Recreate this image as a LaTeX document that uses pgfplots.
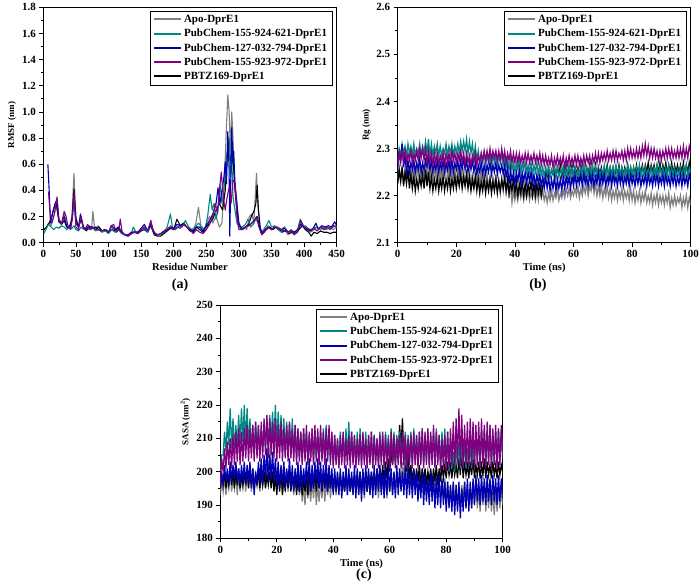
\documentclass[border=0pt]{standalone}
\usepackage{fontspec}
\setmainfont{Liberation Serif}
\usepackage{pgfplots}
\pgfplotsset{compat=1.18}
\definecolor{cgray}{RGB}{128,128,128}
\definecolor{cteal}{RGB}{0,136,130}
\definecolor{cblue}{RGB}{0,0,178}
\definecolor{cpurp}{RGB}{128,0,128}
\pgfplotsset{
  myax/.style={
    scale only axis, anchor=north west,
    axis line style={line width=0.8pt},
    tick align=outside, tick pos=left,
    major tick length=4pt, minor tick length=2.5pt,
    every tick/.style={black, line width=0.7pt},
    minor tick num=1,
    /pgf/number format/assume math mode=true,
    tick label style={font=\bfseries\fontsize{11}{12}\selectfont},
    xlabel style={font=\bfseries\fontsize{10.5}{12}\selectfont, yshift=1pt},
    ylabel style={font=\bfseries\fontsize{9}{10}\selectfont, yshift=-1pt},
    legend style={draw=black, line width=0.5pt, fill=white, at={(0.985,0.985)}, anchor=north east,
      font=\bfseries\fontsize{11}{13}\selectfont, inner xsep=3pt, inner ysep=2pt, row sep=1.2pt},
    legend cell align=left,
    legend image code/.code={\draw[#1, line width=2pt] (0pt,0pt) -- (27pt,0pt);},
    every axis plot/.append style={line width=1.1pt, line join=round},
  },
  band/.style={every axis plot/.append style={line width=1.25pt, line join=miter}},
}
\begin{document}
\begin{tikzpicture}
\path[use as bounding box] (0pt,0pt) rectangle (700pt,-587pt);
% ---------------- (a) RMSF
\begin{axis}[myax, at={(43.3pt,-7.3pt)}, width=293.4pt, height=235.4pt,
  xmin=0, xmax=450, ymin=0, ymax=1.8,
  xtick={0,50,...,450}, ytick={0,0.2,...,1.8},
  yticklabel style={/pgf/number format/.cd, fixed, fixed zerofill, precision=1},
  xlabel={Residue Number}, ylabel={RMSF (nm)}]
\addlegendimage{cgray}\addlegendentry{Apo-DprE1}
\addlegendimage{cteal}\addlegendentry{PubChem-155-924-621-DprE1}
\addlegendimage{cblue}\addlegendentry{PubChem-127-032-794-DprE1}
\addlegendimage{cpurp}\addlegendentry{PubChem-155-923-972-DprE1}
\addlegendimage{black}\addlegendentry{PBTZ169-DprE1}
\addplot[cgray, forget plot] coordinates {(1,0.10)(5,0.12)(8,0.15)(12,0.13)(16,0.2)(20,0.28)(24,0.18)(28,0.15)(32,0.22)(36,0.14)(40,0.12)(44,0.2)(47,0.53)(50,0.2)(54,0.12)(58,0.2)(62,0.12)(66,0.1)(70,0.12)(74,0.1)(76,0.24)(79,0.1)(84,0.13)(88,0.1)(92,0.09)(96,0.1)(100,0.08)(104,0.12)(108,0.1)(112,0.09)(116,0.12)(120,0.09)(125,0.06)(130,0.05)(135,0.07)(140,0.09)(145,0.08)(150,0.1)(155,0.12)(160,0.09)(165,0.15)(170,0.08)(175,0.06)(180,0.06)(185,0.08)(190,0.1)(195,0.13)(200,0.1)(205,0.12)(210,0.13)(215,0.15)(220,0.12)(225,0.1)(230,0.09)(234,0.15)(238,0.27)(242,0.12)(246,0.08)(250,0.15)(255,0.2)(260,0.15)(265,0.2)(270,0.12)(274,0.15)(278,0.5)(281,0.9)(283,1.13)(285,1.0)(287,0.7)(289,1.0)(291,0.8)(293,0.5)(296,0.35)(299,0.15)(303,0.1)(308,0.12)(312,0.1)(316,0.2)(320,0.22)(323,0.15)(325,0.35)(327,0.53)(329,0.3)(332,0.12)(336,0.07)(340,0.1)(345,0.13)(350,0.1)(355,0.12)(360,0.12)(365,0.1)(370,0.12)(375,0.06)(380,0.08)(385,0.07)(390,0.08)(395,0.15)(400,0.12)(405,0.1)(410,0.08)(415,0.1)(420,0.12)(425,0.1)(430,0.12)(435,0.1)(440,0.12)(445,0.1)(450,0.12)};
\addplot[black, forget plot] coordinates {(1,0.1)(5,0.12)(9,0.15)(13,0.2)(16,0.26)(20,0.3)(24,0.16)(28,0.14)(32,0.17)(36,0.12)(40,0.11)(44,0.18)(47,0.41)(50,0.18)(54,0.12)(58,0.18)(62,0.11)(66,0.09)(70,0.12)(75,0.12)(80,0.1)(85,0.12)(90,0.09)(95,0.1)(100,0.08)(105,0.1)(110,0.09)(115,0.11)(120,0.08)(125,0.06)(130,0.06)(135,0.07)(140,0.08)(145,0.07)(150,0.09)(155,0.1)(160,0.08)(165,0.13)(170,0.06)(175,0.05)(180,0.05)(185,0.07)(190,0.09)(195,0.11)(200,0.1)(205,0.18)(210,0.13)(215,0.15)(220,0.12)(225,0.09)(230,0.08)(235,0.12)(240,0.1)(245,0.08)(250,0.12)(255,0.15)(260,0.18)(265,0.25)(270,0.3)(275,0.25)(279,0.4)(282,0.65)(285,0.72)(288,0.6)(291,0.65)(294,0.4)(297,0.25)(300,0.13)(305,0.1)(310,0.12)(315,0.14)(319,0.2)(323,0.24)(326,0.3)(328,0.44)(330,0.25)(333,0.1)(337,0.07)(342,0.1)(347,0.12)(352,0.1)(357,0.12)(362,0.1)(367,0.08)(372,0.1)(377,0.07)(382,0.08)(387,0.07)(392,0.1)(397,0.13)(402,0.1)(407,0.08)(411,0.05)(415,0.08)(420,0.07)(425,0.09)(430,0.08)(435,0.08)(440,0.07)(445,0.08)(450,0.08)};
\addplot[cteal, forget plot] coordinates {(1,0.07)(4,0.1)(8,0.14)(12,0.12)(16,0.1)(20,0.12)(24,0.11)(28,0.13)(32,0.12)(36,0.1)(40,0.12)(44,0.11)(47,0.13)(50,0.1)(54,0.09)(58,0.12)(62,0.1)(66,0.12)(70,0.1)(75,0.12)(80,0.09)(85,0.1)(90,0.08)(95,0.09)(100,0.07)(105,0.1)(110,0.08)(115,0.1)(120,0.07)(125,0.06)(130,0.05)(135,0.07)(138,0.12)(142,0.08)(146,0.08)(150,0.1)(155,0.11)(160,0.08)(165,0.14)(170,0.07)(175,0.06)(180,0.06)(185,0.08)(190,0.12)(195,0.22)(198,0.12)(203,0.1)(208,0.13)(213,0.12)(218,0.17)(223,0.12)(228,0.1)(233,0.12)(238,0.15)(243,0.12)(248,0.1)(252,0.2)(256,0.37)(259,0.25)(262,0.3)(265,0.18)(268,0.25)(271,0.45)(274,0.3)(277,0.4)(280,0.6)(283,0.75)(285,0.8)(287,0.5)(289,0.65)(291,0.35)(294,0.25)(297,0.15)(300,0.12)(305,0.12)(310,0.14)(314,0.18)(318,0.12)(322,0.14)(326,0.18)(330,0.15)(334,0.08)(338,0.1)(343,0.14)(346,0.17)(350,0.12)(355,0.13)(360,0.1)(365,0.08)(370,0.12)(375,0.08)(380,0.1)(385,0.08)(390,0.1)(394,0.18)(398,0.12)(402,0.13)(407,0.1)(412,0.09)(417,0.12)(422,0.11)(427,0.12)(432,0.1)(437,0.12)(442,0.11)(447,0.13)(450,0.12)};
\addplot[cblue, forget plot] coordinates {(7,0.6)(9,0.4)(11,0.15)(14,0.22)(18,0.3)(21,0.33)(24,0.16)(28,0.15)(32,0.2)(36,0.12)(40,0.12)(44,0.17)(47,0.35)(50,0.15)(54,0.12)(57,0.22)(61,0.12)(65,0.1)(70,0.13)(75,0.11)(80,0.12)(85,0.1)(90,0.09)(95,0.1)(100,0.08)(105,0.13)(110,0.1)(115,0.12)(120,0.08)(125,0.06)(130,0.06)(135,0.08)(140,0.08)(145,0.08)(150,0.11)(155,0.14)(160,0.09)(165,0.15)(170,0.07)(175,0.06)(180,0.07)(185,0.09)(190,0.1)(195,0.12)(200,0.11)(205,0.14)(210,0.13)(215,0.14)(220,0.12)(225,0.1)(230,0.09)(235,0.12)(240,0.12)(245,0.09)(250,0.13)(255,0.17)(260,0.22)(265,0.3)(268,0.42)(271,0.3)(274,0.4)(277,0.5)(279,0.62)(281,0.45)(283,0.85)(285,0.55)(286,0.05)(288,0.6)(289,0.88)(291,0.6)(292,0.7)(294,0.45)(297,0.3)(300,0.15)(305,0.1)(310,0.12)(315,0.13)(320,0.15)(325,0.18)(328,0.2)(332,0.12)(336,0.07)(340,0.1)(345,0.12)(350,0.1)(355,0.12)(360,0.11)(365,0.1)(370,0.11)(375,0.08)(380,0.09)(385,0.08)(390,0.1)(395,0.14)(400,0.12)(405,0.1)(410,0.09)(415,0.12)(418,0.15)(422,0.1)(427,0.13)(432,0.12)(437,0.13)(442,0.12)(447,0.16)(450,0.13)};
\addplot[cpurp, forget plot] coordinates {(8,0.39)(10,0.25)(13,0.15)(17,0.22)(21,0.35)(24,0.18)(28,0.14)(32,0.24)(35,0.2)(38,0.12)(42,0.1)(45,0.2)(47,0.38)(50,0.12)(54,0.1)(58,0.2)(61,0.12)(64,0.1)(68,0.14)(72,0.1)(76,0.12)(80,0.1)(85,0.1)(90,0.09)(95,0.1)(100,0.08)(104,0.13)(108,0.14)(112,0.08)(116,0.1)(118,0.18)(121,0.08)(125,0.06)(130,0.05)(135,0.07)(140,0.08)(145,0.07)(150,0.1)(155,0.12)(160,0.09)(165,0.17)(168,0.1)(172,0.07)(176,0.06)(180,0.07)(185,0.08)(190,0.1)(195,0.12)(200,0.1)(205,0.12)(210,0.11)(215,0.14)(220,0.12)(225,0.1)(230,0.07)(235,0.1)(240,0.08)(245,0.07)(250,0.1)(255,0.14)(260,0.2)(264,0.3)(267,0.22)(270,0.4)(273,0.54)(276,0.35)(279,0.25)(282,0.35)(285,0.42)(288,0.3)(291,0.48)(294,0.46)(297,0.2)(300,0.1)(305,0.1)(310,0.12)(315,0.13)(320,0.15)(325,0.18)(327,0.2)(330,0.13)(335,0.06)(340,0.09)(345,0.12)(350,0.1)(355,0.12)(360,0.11)(365,0.1)(370,0.09)(375,0.08)(380,0.09)(385,0.06)(390,0.09)(395,0.17)(400,0.12)(405,0.11)(410,0.1)(415,0.11)(420,0.09)(425,0.12)(430,0.1)(435,0.12)(440,0.1)(445,0.13)(450,0.12)};
\end{axis}
\node[font=\bfseries\fontsize{14}{16}\selectfont] at (180pt,-285pt) {(a)};
% ---------------- (b) Rg
\begin{axis}[myax, band, at={(397.7pt,-7.3pt)}, width=293pt, height=235.4pt,
  xmin=0, xmax=100, ymin=2.1, ymax=2.6,
  xtick={0,20,...,100}, ytick={2.1,2.2,...,2.6},
  yticklabel style={/pgf/number format/.cd, fixed, fixed zerofill, precision=1},
  xlabel={Time (ns)}, ylabel={Rg (nm)}]
\addlegendimage{cgray}\addlegendentry{Apo-DprE1}
\addlegendimage{cteal}\addlegendentry{PubChem-155-924-621-DprE1}
\addlegendimage{cblue}\addlegendentry{PubChem-127-032-794-DprE1}
\addlegendimage{cpurp}\addlegendentry{PubChem-155-923-972-DprE1}
\addlegendimage{black}\addlegendentry{PBTZ169-DprE1}
\addplot[cgray, forget plot] coordinates {(0,2.235)(0.5,2.26)(1,2.23)(1.5,2.265)(2,2.225)(2.5,2.255)(3,2.235)(3.5,2.26)(4,2.23)(4.5,2.255)(5,2.235)(5.5,2.265)(6,2.23)(6.5,2.26)(7,2.24)(7.5,2.265)(8,2.235)(8.5,2.26)(9,2.24)(9.5,2.27)(10,2.23)(10.5,2.265)(11,2.235)(11.5,2.27)(12,2.23)(12.5,2.26)(13,2.24)(13.5,2.265)(14,2.23)(14.5,2.26)(15,2.235)(15.5,2.265)(16,2.235)(16.5,2.27)(17,2.24)(17.5,2.265)(18,2.23)(18.5,2.26)(19,2.225)(19.5,2.255)(20,2.225)(20.5,2.255)(21,2.23)(21.5,2.26)(22,2.225)(22.5,2.25)(23,2.22)(23.5,2.255)(24,2.225)(24.5,2.25)(25,2.22)(25.5,2.25)(26,2.215)(26.5,2.245)(27,2.22)(27.5,2.25)(28,2.225)(28.5,2.255)(29,2.22)(29.5,2.25)(30,2.215)(30.5,2.245)(31,2.215)(31.5,2.24)(32,2.21)(32.5,2.24)(33,2.215)(33.5,2.245)(34,2.21)(34.5,2.235)(35,2.205)(35.5,2.235)(36,2.21)(36.5,2.24)(37,2.205)(37.5,2.23)(38,2.195)(38.5,2.225)(39,2.185)(39.5,2.21)(40,2.19)(40.5,2.21)(41,2.19)(41.5,2.215)(42,2.195)(42.5,2.21)(43,2.19)(43.5,2.21)(44,2.195)(44.5,2.215)(45,2.19)(45.5,2.205)(46,2.195)(46.5,2.21)(47,2.19)(47.5,2.21)(48,2.19)(48.5,2.215)(49,2.195)(49.5,2.21)(50,2.19)(50.5,2.205)(51,2.185)(51.5,2.205)(52,2.19)(52.5,2.21)(53,2.19)(53.5,2.205)(54,2.195)(54.5,2.215)(55,2.19)(55.5,2.205)(56,2.195)(56.5,2.21)(57,2.195)(57.5,2.215)(58,2.2)(58.5,2.215)(59,2.195)(59.5,2.21)(60,2.2)(60.5,2.215)(61,2.2)(61.5,2.22)(62,2.195)(62.5,2.215)(63,2.2)(63.5,2.22)(64,2.205)(64.5,2.225)(65,2.2)(65.5,2.22)(66,2.21)(66.5,2.23)(67,2.205)(67.5,2.225)(68,2.2)(68.5,2.22)(69,2.2)(69.5,2.22)(70,2.195)(70.5,2.215)(71,2.2)(71.5,2.22)(72,2.195)(72.5,2.215)(73,2.19)(73.5,2.21)(74,2.195)(74.5,2.215)(75,2.19)(75.5,2.21)(76,2.195)(76.5,2.215)(77,2.19)(77.5,2.21)(78,2.195)(78.5,2.21)(79,2.19)(79.5,2.215)(80,2.19)(80.5,2.21)(81,2.185)(81.5,2.205)(82,2.19)(82.5,2.21)(83,2.185)(83.5,2.205)(84,2.19)(84.5,2.21)(85,2.185)(85.5,2.2)(86,2.185)(86.5,2.205)(87,2.18)(87.5,2.2)(88,2.185)(88.5,2.205)(89,2.18)(89.5,2.2)(90,2.185)(90.5,2.2)(91,2.18)(91.5,2.2)(92,2.185)(92.5,2.205)(93,2.175)(93.5,2.195)(94,2.18)(94.5,2.2)(95,2.18)(95.5,2.195)(96,2.185)(96.5,2.2)(97,2.175)(97.5,2.195)(98,2.18)(98.5,2.2)(99,2.175)(99.5,2.195)(100,2.18)};
\addplot[black, forget plot] coordinates {(0,2.225)(0.5,2.255)(1,2.23)(1.5,2.26)(2,2.22)(2.5,2.25)(3,2.225)(3.5,2.255)(4,2.215)(4.5,2.245)(5,2.215)(5.5,2.24)(6,2.21)(6.5,2.235)(7,2.215)(7.5,2.24)(8,2.22)(8.5,2.245)(9,2.215)(9.5,2.255)(10,2.22)(10.5,2.25)(11,2.215)(11.5,2.24)(12,2.21)(12.5,2.235)(13,2.215)(13.5,2.24)(14,2.21)(14.5,2.235)(15,2.215)(15.5,2.24)(16,2.21)(16.5,2.235)(17,2.215)(17.5,2.24)(18,2.21)(18.5,2.235)(19,2.215)(19.5,2.24)(20,2.215)(20.5,2.24)(21,2.22)(21.5,2.245)(22,2.215)(22.5,2.24)(23,2.22)(23.5,2.245)(24,2.215)(24.5,2.24)(25,2.21)(25.5,2.235)(26,2.215)(26.5,2.24)(27,2.21)(27.5,2.235)(28,2.205)(28.5,2.23)(29,2.21)(29.5,2.235)(30,2.205)(30.5,2.23)(31,2.21)(31.5,2.235)(32,2.205)(32.5,2.23)(33,2.21)(33.5,2.235)(34,2.205)(34.5,2.23)(35,2.21)(35.5,2.235)(36,2.215)(36.5,2.24)(37,2.21)(37.5,2.235)(38,2.205)(38.5,2.23)(39,2.21)(39.5,2.235)(40,2.205)(40.5,2.23)(41,2.2)(41.5,2.225)(42,2.205)(42.5,2.23)(43,2.2)(43.5,2.225)(44,2.2)(44.5,2.225)(45,2.205)(45.5,2.23)(46,2.2)(46.5,2.225)(47,2.2)(47.5,2.225)(48,2.205)(48.5,2.225)(49,2.2)(49.5,2.22)(50,2.235)(50.5,2.255)(51,2.24)(51.5,2.26)(52,2.24)(52.5,2.255)(53,2.245)(53.5,2.26)(54,2.24)(54.5,2.26)(55,2.245)(55.5,2.265)(56,2.24)(56.5,2.26)(57,2.245)(57.5,2.265)(58,2.24)(58.5,2.26)(59,2.245)(59.5,2.265)(60,2.24)(60.5,2.26)(61,2.245)(61.5,2.26)(62,2.24)(62.5,2.265)(63,2.245)(63.5,2.26)(64,2.24)(64.5,2.26)(65,2.245)(65.5,2.265)(66,2.24)(66.5,2.26)(67,2.245)(67.5,2.265)(68,2.24)(68.5,2.26)(69,2.245)(69.5,2.26)(70,2.24)(70.5,2.26)(71,2.245)(71.5,2.265)(72,2.24)(72.5,2.26)(73,2.245)(73.5,2.26)(74,2.24)(74.5,2.26)(75,2.245)(75.5,2.265)(76,2.24)(76.5,2.26)(77,2.245)(77.5,2.26)(78,2.24)(78.5,2.265)(79,2.245)(79.5,2.26)(80,2.24)(80.5,2.26)(81,2.245)(81.5,2.265)(82,2.245)(82.5,2.26)(83,2.25)(83.5,2.265)(84,2.245)(84.5,2.265)(85,2.25)(85.5,2.27)(86,2.245)(86.5,2.265)(87,2.25)(87.5,2.265)(88,2.245)(88.5,2.265)(89,2.25)(89.5,2.27)(90,2.245)(90.5,2.265)(91,2.25)(91.5,2.27)(92,2.245)(92.5,2.265)(93,2.25)(93.5,2.27)(94,2.245)(94.5,2.265)(95,2.25)(95.5,2.265)(96,2.245)(96.5,2.265)(97,2.25)(97.5,2.27)(98,2.245)(98.5,2.265)(99,2.25)(99.5,2.27)(100,2.25)};
\addplot[cteal, forget plot] coordinates {(0,2.27)(0.5,2.30)(1,2.285)(1.5,2.31)(2,2.29)(2.5,2.305)(3,2.285)(3.5,2.31)(4,2.29)(4.5,2.305)(5,2.285)(5.5,2.31)(6,2.285)(6.5,2.30)(7,2.29)(7.5,2.31)(8,2.285)(8.5,2.305)(9,2.29)(9.5,2.315)(10,2.29)(10.5,2.32)(11,2.285)(11.5,2.31)(12,2.285)(12.5,2.305)(13,2.29)(13.5,2.31)(14,2.285)(14.5,2.305)(15,2.285)(15.5,2.30)(16,2.29)(16.5,2.31)(17,2.285)(17.5,2.305)(18,2.29)(18.5,2.31)(19,2.285)(19.5,2.305)(20,2.29)(20.5,2.31)(21,2.29)(21.5,2.315)(22,2.295)(22.5,2.315)(23,2.295)(23.5,2.32)(24,2.29)(24.5,2.315)(25,2.29)(25.5,2.31)(26,2.28)(26.5,2.305)(27,2.275)(27.5,2.295)(28,2.27)(28.5,2.29)(29,2.27)(29.5,2.29)(30,2.265)(30.5,2.285)(31,2.27)(31.5,2.29)(32,2.265)(32.5,2.285)(33,2.27)(33.5,2.29)(34,2.265)(34.5,2.285)(35,2.27)(35.5,2.29)(36,2.265)(36.5,2.285)(37,2.26)(37.5,2.28)(38,2.255)(38.5,2.275)(39,2.255)(39.5,2.27)(40,2.25)(40.5,2.27)(41,2.255)(41.5,2.275)(42,2.25)(42.5,2.27)(43,2.255)(43.5,2.27)(44,2.25)(44.5,2.265)(45,2.25)(45.5,2.27)(46,2.245)(46.5,2.265)(47,2.25)(47.5,2.27)(48,2.245)(48.5,2.265)(49,2.245)(49.5,2.26)(50,2.24)(50.5,2.26)(51,2.245)(51.5,2.26)(52,2.24)(52.5,2.255)(53,2.245)(53.5,2.26)(54,2.24)(54.5,2.26)(55,2.24)(55.5,2.255)(56,2.245)(56.5,2.26)(57,2.24)(57.5,2.26)(58,2.245)(58.5,2.265)(59,2.24)(59.5,2.26)(60,2.245)(60.5,2.26)(61,2.24)(61.5,2.255)(62,2.245)(62.5,2.26)(63,2.24)(63.5,2.265)(64,2.245)(64.5,2.26)(65,2.24)(65.5,2.26)(66,2.245)(66.5,2.265)(67,2.24)(67.5,2.26)(68,2.245)(68.5,2.26)(69,2.24)(69.5,2.255)(70,2.245)(70.5,2.265)(71,2.24)(71.5,2.26)(72,2.245)(72.5,2.26)(73,2.24)(73.5,2.26)(74,2.245)(74.5,2.265)(75,2.24)(75.5,2.26)(76,2.245)(76.5,2.26)(77,2.24)(77.5,2.255)(78,2.245)(78.5,2.265)(79,2.24)(79.5,2.26)(80,2.245)(80.5,2.26)(81,2.24)(81.5,2.26)(82,2.245)(82.5,2.265)(83,2.24)(83.5,2.26)(84,2.245)(84.5,2.26)(85,2.24)(85.5,2.255)(86,2.245)(86.5,2.26)(87,2.24)(87.5,2.26)(88,2.245)(88.5,2.265)(89,2.24)(89.5,2.26)(90,2.245)(90.5,2.26)(91,2.24)(91.5,2.26)(92,2.245)(92.5,2.265)(93,2.24)(93.5,2.26)(94,2.245)(94.5,2.26)(95,2.24)(95.5,2.255)(96,2.245)(96.5,2.26)(97,2.24)(97.5,2.26)(98,2.245)(98.5,2.265)(99,2.24)(99.5,2.26)(100,2.25)};
\addplot[cblue, forget plot] coordinates {(0,2.26)(0.5,2.29)(1,2.275)(1.5,2.31)(2,2.26)(2.5,2.285)(3,2.25)(3.5,2.275)(4,2.25)(4.5,2.27)(5,2.255)(5.5,2.275)(6,2.25)(6.5,2.27)(7,2.255)(7.5,2.28)(8,2.25)(8.5,2.27)(9,2.255)(9.5,2.275)(10,2.26)(10.5,2.28)(11,2.255)(11.5,2.275)(12,2.25)(12.5,2.27)(13,2.255)(13.5,2.275)(14,2.25)(14.5,2.27)(15,2.255)(15.5,2.275)(16,2.25)(16.5,2.27)(17,2.255)(17.5,2.275)(18,2.25)(18.5,2.275)(19,2.25)(19.5,2.27)(20,2.255)(20.5,2.275)(21,2.25)(21.5,2.275)(22,2.255)(22.5,2.28)(23,2.255)(23.5,2.275)(24,2.25)(24.5,2.27)(25,2.255)(25.5,2.275)(26,2.25)(26.5,2.27)(27,2.245)(27.5,2.265)(28,2.25)(28.5,2.27)(29,2.245)(29.5,2.265)(30,2.245)(30.5,2.265)(31,2.25)(31.5,2.27)(32,2.245)(32.5,2.265)(33,2.25)(33.5,2.27)(34,2.245)(34.5,2.265)(35,2.25)(35.5,2.265)(36,2.245)(36.5,2.265)(37,2.24)(37.5,2.26)(38,2.225)(38.5,2.255)(39,2.23)(39.5,2.25)(40,2.225)(40.5,2.25)(41,2.23)(41.5,2.255)(42,2.225)(42.5,2.25)(43,2.23)(43.5,2.25)(44,2.225)(44.5,2.25)(45,2.23)(45.5,2.25)(46,2.225)(46.5,2.245)(47,2.22)(47.5,2.245)(48,2.225)(48.5,2.245)(49,2.22)(49.5,2.24)(50,2.215)(50.5,2.24)(51,2.215)(51.5,2.24)(52,2.21)(52.5,2.235)(53,2.215)(53.5,2.24)(54,2.21)(54.5,2.235)(55,2.215)(55.5,2.235)(56,2.21)(56.5,2.24)(57,2.215)(57.5,2.24)(58,2.22)(58.5,2.24)(59,2.215)(59.5,2.24)(60,2.22)(60.5,2.245)(61,2.22)(61.5,2.24)(62,2.225)(62.5,2.245)(63,2.22)(63.5,2.245)(64,2.225)(64.5,2.24)(65,2.22)(65.5,2.245)(66,2.225)(66.5,2.245)(67,2.22)(67.5,2.24)(68,2.225)(68.5,2.25)(69,2.22)(69.5,2.245)(70,2.225)(70.5,2.245)(71,2.22)(71.5,2.24)(72,2.225)(72.5,2.245)(73,2.22)(73.5,2.245)(74,2.225)(74.5,2.24)(75,2.22)(75.5,2.245)(76,2.225)(76.5,2.245)(77,2.22)(77.5,2.24)(78,2.225)(78.5,2.245)(79,2.22)(79.5,2.245)(80,2.225)(80.5,2.24)(81,2.22)(81.5,2.245)(82,2.225)(82.5,2.245)(83,2.22)(83.5,2.24)(84,2.225)(84.5,2.245)(85,2.22)(85.5,2.245)(86,2.225)(86.5,2.24)(87,2.22)(87.5,2.245)(88,2.225)(88.5,2.245)(89,2.22)(89.5,2.24)(90,2.225)(90.5,2.245)(91,2.22)(91.5,2.245)(92,2.225)(92.5,2.24)(93,2.22)(93.5,2.245)(94,2.225)(94.5,2.245)(95,2.22)(95.5,2.24)(96,2.225)(96.5,2.245)(97,2.22)(97.5,2.245)(98,2.225)(98.5,2.24)(99,2.22)(99.5,2.245)(100,2.23)};
\addplot[cpurp, forget plot] coordinates {(0,2.265)(0.5,2.29)(1,2.27)(1.5,2.295)(2,2.275)(2.5,2.295)(3,2.27)(3.5,2.29)(4,2.275)(4.5,2.295)(5,2.27)(5.5,2.29)(6,2.275)(6.5,2.295)(7,2.275)(7.5,2.30)(8,2.28)(8.5,2.30)(9,2.275)(9.5,2.30)(10,2.27)(10.5,2.295)(11,2.27)(11.5,2.29)(12,2.265)(12.5,2.29)(13,2.27)(13.5,2.29)(14,2.265)(14.5,2.285)(15,2.27)(15.5,2.29)(16,2.265)(16.5,2.29)(17,2.27)(17.5,2.29)(18,2.27)(18.5,2.295)(19,2.275)(19.5,2.29)(20,2.27)(20.5,2.29)(21,2.275)(21.5,2.295)(22,2.27)(22.5,2.29)(23,2.265)(23.5,2.29)(24,2.27)(24.5,2.285)(25,2.265)(25.5,2.285)(26,2.27)(26.5,2.29)(27,2.265)(27.5,2.285)(28,2.27)(28.5,2.29)(29,2.275)(29.5,2.295)(30,2.275)(30.5,2.295)(31,2.275)(31.5,2.30)(32,2.275)(32.5,2.295)(33,2.28)(33.5,2.295)(34,2.275)(34.5,2.295)(35,2.275)(35.5,2.30)(36,2.275)(36.5,2.295)(37,2.27)(37.5,2.29)(38,2.275)(38.5,2.295)(39,2.27)(39.5,2.29)(40,2.27)(40.5,2.29)(41,2.27)(41.5,2.29)(42,2.27)(42.5,2.285)(43,2.27)(43.5,2.29)(44,2.27)(44.5,2.29)(45,2.27)(45.5,2.285)(46,2.27)(46.5,2.29)(47,2.27)(47.5,2.285)(48,2.27)(48.5,2.29)(49,2.265)(49.5,2.285)(50,2.265)(50.5,2.285)(51,2.265)(51.5,2.28)(52,2.265)(52.5,2.285)(53,2.26)(53.5,2.28)(54,2.265)(54.5,2.285)(55,2.265)(55.5,2.28)(56,2.265)(56.5,2.285)(57,2.26)(57.5,2.28)(58,2.265)(58.5,2.285)(59,2.265)(59.5,2.28)(60,2.265)(60.5,2.285)(61,2.265)(61.5,2.285)(62,2.265)(62.5,2.28)(63,2.265)(63.5,2.285)(64,2.265)(64.5,2.285)(65,2.27)(65.5,2.285)(66,2.265)(66.5,2.285)(67,2.27)(67.5,2.29)(68,2.27)(68.5,2.29)(69,2.27)(69.5,2.29)(70,2.275)(70.5,2.29)(71,2.275)(71.5,2.295)(72,2.275)(72.5,2.29)(73,2.275)(73.5,2.295)(74,2.275)(74.5,2.295)(75,2.275)(75.5,2.29)(76,2.28)(76.5,2.295)(77,2.275)(77.5,2.295)(78,2.275)(78.5,2.30)(79,2.28)(79.5,2.30)(80,2.28)(80.5,2.295)(81,2.28)(81.5,2.30)(82,2.28)(82.5,2.30)(83,2.28)(83.5,2.305)(84,2.285)(84.5,2.31)(85,2.285)(85.5,2.305)(86,2.28)(86.5,2.30)(87,2.28)(87.5,2.30)(88,2.28)(88.5,2.295)(89,2.275)(89.5,2.295)(90,2.275)(90.5,2.295)(91,2.28)(91.5,2.30)(92,2.28)(92.5,2.30)(93,2.28)(93.5,2.30)(94,2.28)(94.5,2.295)(95,2.28)(95.5,2.30)(96,2.28)(96.5,2.30)(97,2.28)(97.5,2.305)(98,2.28)(98.5,2.30)(99,2.28)(99.5,2.305)(100,2.29)};
\end{axis}
\node[font=\bfseries\fontsize{14}{16}\selectfont] at (538pt,-285pt) {(b)};
% ---------------- (c) SASA
\begin{axis}[myax, band, at={(220.3pt,-305pt)}, width=282.4pt, height=233.3pt,
  xmin=0, xmax=100, ymin=180, ymax=250,
  xtick={0,20,...,100}, ytick={180,190,...,250},
  xlabel={Time (ns)}, ylabel={SASA (nm$^{\mathbf{2}}$)}]
\addlegendimage{cgray}\addlegendentry{Apo-DprE1}
\addlegendimage{cteal}\addlegendentry{PubChem-155-924-621-DprE1}
\addlegendimage{cblue}\addlegendentry{PubChem-127-032-794-DprE1}
\addlegendimage{cpurp}\addlegendentry{PubChem-155-923-972-DprE1}
\addlegendimage{black}\addlegendentry{PBTZ169-DprE1}
\addplot[cgray, forget plot] coordinates {(0,193)(0.5,197)(1,194)(1.5,199)(2,193)(2.5,198)(3,195)(3.5,200)(4,194)(4.5,198)(5,195)(5.5,200)(6,193)(6.5,199)(7,194)(7.5,198)(8,195)(8.5,200)(9,194)(9.5,199)(10,195)(10.5,201)(11,194)(11.5,198)(12,195)(12.5,200)(13,196)(13.5,201)(14,194)(14.5,199)(15,196)(15.5,202)(16,195)(16.5,203)(17,197)(17.5,207)(18,196)(18.5,201)(19,195)(19.5,200)(20,194)(20.5,199)(21,195)(21.5,200)(22,193)(22.5,198)(23,195)(23.5,200)(24,194)(24.5,199)(25,195)(25.5,200)(26,193)(26.5,198)(27,194)(27.5,199)(28,193)(28.5,197)(29,191)(29.5,196)(30,190)(30.5,197)(31,192)(31.5,196)(32,191)(32.5,197)(33,192)(33.5,198)(34,190)(34.5,196)(35,191)(35.5,197)(36,192)(36.5,198)(37,191)(37.5,197)(38,193)(38.5,199)(39,192)(39.5,198)(40,194)(40.5,199)(41,193)(41.5,200)(42,194)(42.5,199)(43,193)(43.5,198)(44,194)(44.5,200)(45,193)(45.5,199)(46,194)(46.5,198)(47,193)(47.5,199)(48,194)(48.5,200)(49,193)(49.5,198)(50,194)(50.5,199)(51,192)(51.5,198)(52,194)(52.5,200)(53,193)(53.5,199)(54,194)(54.5,198)(55,193)(55.5,199)(56,192)(56.5,198)(57,194)(57.5,200)(58,193)(58.5,199)(59,192)(59.5,198)(60,194)(60.5,199)(61,193)(61.5,200)(62,194)(62.5,199)(63,195)(63.5,201)(64,196)(64.5,203)(65,197)(65.5,205)(66,196)(66.5,202)(67,195)(67.5,200)(68,194)(68.5,199)(69,195)(69.5,200)(70,194)(70.5,199)(71,195)(71.5,201)(72,194)(72.5,199)(73,195)(73.5,200)(74,194)(74.5,199)(75,193)(75.5,198)(76,194)(76.5,199)(77,193)(77.5,198)(78,192)(78.5,197)(79,193)(79.5,198)(80,191)(80.5,197)(81,190)(81.5,196)(82,191)(82.5,197)(83,190)(83.5,196)(84,189)(84.5,195)(85,190)(85.5,196)(86,191)(86.5,197)(87,189)(87.5,196)(88,190)(88.5,195)(89,189)(89.5,196)(90,190)(90.5,197)(91,189)(91.5,195)(92,188)(92.5,196)(93,190)(93.5,197)(94,188)(94.5,195)(95,189)(95.5,196)(96,188)(96.5,194)(97,187)(97.5,195)(98,188)(98.5,196)(99,189)(99.5,195)(100,190)};
\addplot[black, forget plot] coordinates {(0,195)(0.5,199)(1,196)(1.5,200)(2,195)(2.5,199)(3,196)(3.5,201)(4,196)(4.5,200)(5,195)(5.5,200)(6,196)(6.5,201)(7,195)(7.5,199)(8,196)(8.5,200)(9,196)(9.5,201)(10,195)(10.5,200)(11,196)(11.5,201)(12,195)(12.5,199)(13,196)(13.5,200)(14,195)(14.5,200)(15,196)(15.5,200)(16,195)(16.5,199)(17,196)(17.5,200)(18,195)(18.5,200)(19,194)(19.5,199)(20,193)(20.5,200)(21,194)(21.5,201)(22,193)(22.5,199)(23,194)(23.5,200)(24,195)(24.5,201)(25,194)(25.5,199)(26,195)(26.5,200)(27,193)(27.5,198)(28,194)(28.5,199)(29,193)(29.5,198)(30,194)(30.5,199)(31,193)(31.5,200)(32,194)(32.5,199)(33,195)(33.5,200)(34,194)(34.5,199)(35,195)(35.5,201)(36,194)(36.5,200)(37,195)(37.5,199)(38,194)(38.5,200)(39,195)(39.5,199)(40,194)(40.5,199)(41,195)(41.5,198)(42,194)(42.5,199)(43,195)(43.5,198)(44,194)(44.5,199)(45,195)(45.5,199)(46,194)(46.5,198)(47,195)(47.5,199)(48,194)(48.5,199)(49,195)(49.5,200)(50,194)(50.5,199)(51,195)(51.5,200)(52,194)(52.5,199)(53,195)(53.5,200)(54,196)(54.5,200)(55,195)(55.5,201)(56,196)(56.5,201)(57,197)(57.5,202)(58,197)(58.5,203)(59,198)(59.5,204)(60,200)(60.5,206)(61,202)(61.5,208)(62,203)(62.5,210)(63,205)(63.5,214)(64,207)(64.5,216)(65,204)(65.5,210)(66,200)(66.5,206)(67,198)(67.5,202)(68,197)(68.5,201)(69,196)(69.5,201)(70,197)(70.5,202)(71,196)(71.5,201)(72,197)(72.5,201)(73,196)(73.5,200)(74,197)(74.5,201)(75,196)(75.5,201)(76,197)(76.5,202)(77,196)(77.5,201)(78,197)(78.5,202)(79,198)(79.5,202)(80,198)(80.5,203)(81,199)(81.5,202)(82,198)(82.5,203)(83,199)(83.5,202)(84,198)(84.5,204)(85,199)(85.5,206)(86,198)(86.5,203)(87,199)(87.5,202)(88,198)(88.5,203)(89,199)(89.5,204)(90,198)(90.5,202)(91,199)(91.5,203)(92,198)(92.5,202)(93,199)(93.5,204)(94,198)(94.5,203)(95,199)(95.5,202)(96,198)(96.5,203)(97,199)(97.5,202)(98,198)(98.5,203)(99,199)(99.5,202)(100,200)};
\addplot[cteal, forget plot] coordinates {(0,200)(0.5,205)(1,205)(1.5,212)(2,206)(2.5,215)(3,208)(3.5,219)(4,207)(4.5,216)(5,206)(5.5,214)(6,207)(6.5,217)(7,208)(7.5,219)(8,209)(8.5,220)(9,208)(9.5,219)(10,207)(10.5,216)(11,206)(11.5,214)(12,205)(12.5,215)(13,206)(13.5,214)(14,205)(14.5,213)(15,206)(15.5,215)(16,207)(16.5,216)(17,207)(17.5,217)(18,208)(18.5,218)(19,209)(19.5,220)(20,208)(20.5,218)(21,207)(21.5,217)(22,206)(22.5,216)(23,205)(23.5,215)(24,206)(24.5,215)(25,205)(25.5,216)(26,205)(26.5,214)(27,204)(27.5,213)(28,204)(28.5,212)(29,203)(29.5,213)(30,204)(30.5,212)(31,203)(31.5,211)(32,204)(32.5,213)(33,203)(33.5,212)(34,204)(34.5,211)(35,203)(35.5,212)(36,204)(36.5,213)(37,203)(37.5,214)(38,204)(38.5,212)(39,203)(39.5,211)(40,202)(40.5,211)(41,203)(41.5,210)(42,202)(42.5,212)(43,203)(43.5,211)(44,204)(44.5,213)(45,203)(45.5,215)(46,204)(46.5,212)(47,203)(47.5,211)(48,202)(48.5,212)(49,203)(49.5,213)(50,202)(50.5,211)(51,203)(51.5,212)(52,202)(52.5,211)(53,203)(53.5,212)(54,202)(54.5,211)(55,203)(55.5,210)(56,202)(56.5,212)(57,203)(57.5,211)(58,202)(58.5,212)(59,203)(59.5,211)(60,202)(60.5,213)(61,203)(61.5,212)(62,202)(62.5,211)(63,203)(63.5,212)(64,202)(64.5,211)(65,203)(65.5,212)(66,202)(66.5,211)(67,203)(67.5,212)(68,202)(68.5,213)(69,203)(69.5,211)(70,202)(70.5,212)(71,203)(71.5,213)(72,202)(72.5,211)(73,203)(73.5,212)(74,202)(74.5,211)(75,203)(75.5,212)(76,202)(76.5,213)(77,203)(77.5,211)(78,202)(78.5,212)(79,203)(79.5,213)(80,201)(80.5,212)(81,200)(81.5,208)(82,201)(82.5,206)(83,200)(83.5,208)(84,202)(84.5,209)(85,201)(85.5,208)(86,202)(86.5,209)(87,201)(87.5,207)(88,202)(88.5,208)(89,201)(89.5,210)(90,202)(90.5,212)(91,203)(91.5,211)(92,202)(92.5,212)(93,203)(93.5,213)(94,202)(94.5,212)(95,203)(95.5,214)(96,202)(96.5,211)(97,203)(97.5,212)(98,202)(98.5,213)(99,203)(99.5,212)(100,204)};
\addplot[cblue, forget plot] coordinates {(0,195)(0.5,200)(1,196)(1.5,202)(2,197)(2.5,201)(3,196)(3.5,203)(4,197)(4.5,202)(5,198)(5.5,203)(6,197)(6.5,201)(7,196)(7.5,202)(8,197)(8.5,203)(9,196)(9.5,202)(10,197)(10.5,203)(11,195)(11.5,201)(12,193)(12.5,200)(13,196)(13.5,203)(14,197)(14.5,204)(15,196)(15.5,205)(16,198)(16.5,207)(17,197)(17.5,205)(18,198)(18.5,206)(19,197)(19.5,204)(20,196)(20.5,203)(21,195)(21.5,202)(22,196)(22.5,203)(23,195)(23.5,201)(24,196)(24.5,204)(25,195)(25.5,202)(26,194)(26.5,201)(27,195)(27.5,203)(28,194)(28.5,202)(29,195)(29.5,201)(30,196)(30.5,203)(31,195)(31.5,204)(32,194)(32.5,202)(33,195)(33.5,203)(34,196)(34.5,204)(35,195)(35.5,203)(36,194)(36.5,202)(37,195)(37.5,204)(38,194)(38.5,202)(39,195)(39.5,201)(40,193)(40.5,201)(41,194)(41.5,200)(42,193)(42.5,201)(43,192)(43.5,200)(44,194)(44.5,202)(45,193)(45.5,201)(46,194)(46.5,200)(47,193)(47.5,202)(48,192)(48.5,201)(49,193)(49.5,200)(50,191)(50.5,201)(51,193)(51.5,202)(52,194)(52.5,201)(53,193)(53.5,200)(54,192)(54.5,202)(55,193)(55.5,201)(56,194)(56.5,202)(57,193)(57.5,200)(58,192)(58.5,201)(59,193)(59.5,202)(60,194)(60.5,201)(61,193)(61.5,200)(62,192)(62.5,202)(63,193)(63.5,201)(64,194)(64.5,200)(65,193)(65.5,202)(66,192)(66.5,201)(67,193)(67.5,200)(68,192)(68.5,201)(69,193)(69.5,200)(70,191)(70.5,199)(71,192)(71.5,200)(72,190)(72.5,199)(73,191)(73.5,198)(74,190)(74.5,200)(75,191)(75.5,199)(76,189)(76.5,198)(77,190)(77.5,199)(78,189)(78.5,198)(79,190)(79.5,197)(80,188)(80.5,197)(81,189)(81.5,196)(82,188)(82.5,197)(83,187)(83.5,196)(84,188)(84.5,197)(85,186)(85.5,195)(86,188)(86.5,197)(87,189)(87.5,198)(88,188)(88.5,197)(89,189)(89.5,198)(90,190)(90.5,199)(91,191)(91.5,198)(92,190)(92.5,199)(93,191)(93.5,198)(94,190)(94.5,199)(95,191)(95.5,198)(96,190)(96.5,199)(97,191)(97.5,198)(98,190)(98.5,199)(99,191)(99.5,198)(100,192)};
\addplot[cpurp, forget plot] coordinates {(0,196)(0.5,204)(1,200)(1.5,207)(2,201)(2.5,209)(3,202)(3.5,210)(4,201)(4.5,211)(5,202)(5.5,212)(6,203)(6.5,213)(7,202)(7.5,212)(8,203)(8.5,213)(9,204)(9.5,214)(10,203)(10.5,213)(11,204)(11.5,214)(12,203)(12.5,215)(13,204)(13.5,214)(14,203)(14.5,215)(15,204)(15.5,216)(16,205)(16.5,217)(17,204)(17.5,216)(18,205)(18.5,215)(19,204)(19.5,216)(20,203)(20.5,214)(21,204)(21.5,215)(22,203)(22.5,213)(23,204)(23.5,214)(24,203)(24.5,215)(25,204)(25.5,213)(26,203)(26.5,214)(27,202)(27.5,213)(28,203)(28.5,212)(29,202)(29.5,213)(30,203)(30.5,214)(31,202)(31.5,212)(32,203)(32.5,213)(33,202)(33.5,214)(34,203)(34.5,213)(35,202)(35.5,214)(36,203)(36.5,212)(37,202)(37.5,213)(38,203)(38.5,214)(39,202)(39.5,212)(40,201)(40.5,211)(41,202)(41.5,210)(42,201)(42.5,211)(43,202)(43.5,212)(44,201)(44.5,210)(45,202)(45.5,211)(46,201)(46.5,212)(47,202)(47.5,211)(48,201)(48.5,210)(49,202)(49.5,211)(50,201)(50.5,212)(51,202)(51.5,210)(52,201)(52.5,211)(53,202)(53.5,212)(54,201)(54.5,211)(55,202)(55.5,210)(56,201)(56.5,211)(57,202)(57.5,212)(58,201)(58.5,211)(59,202)(59.5,210)(60,201)(60.5,212)(61,202)(61.5,211)(62,201)(62.5,210)(63,202)(63.5,211)(64,201)(64.5,212)(65,202)(65.5,211)(66,201)(66.5,210)(67,202)(67.5,211)(68,201)(68.5,212)(69,202)(69.5,211)(70,201)(70.5,212)(71,202)(71.5,213)(72,201)(72.5,212)(73,202)(73.5,213)(74,201)(74.5,212)(75,202)(75.5,214)(76,201)(76.5,212)(77,202)(77.5,211)(78,200)(78.5,210)(79,201)(79.5,211)(80,200)(80.5,212)(81,201)(81.5,213)(82,202)(82.5,215)(83,201)(83.5,216)(84,203)(84.5,219)(85,202)(85.5,217)(86,201)(86.5,214)(87,202)(87.5,215)(88,201)(88.5,216)(89,202)(89.5,215)(90,201)(90.5,214)(91,202)(91.5,215)(92,201)(92.5,216)(93,202)(93.5,214)(94,201)(94.5,215)(95,202)(95.5,214)(96,201)(96.5,213)(97,202)(97.5,214)(98,201)(98.5,213)(99,202)(99.5,214)(100,204)};
\end{axis}
\node[font=\bfseries\fontsize{14}{16}\selectfont] at (364pt,-575pt) {(c)};
\end{tikzpicture}
\end{document}
